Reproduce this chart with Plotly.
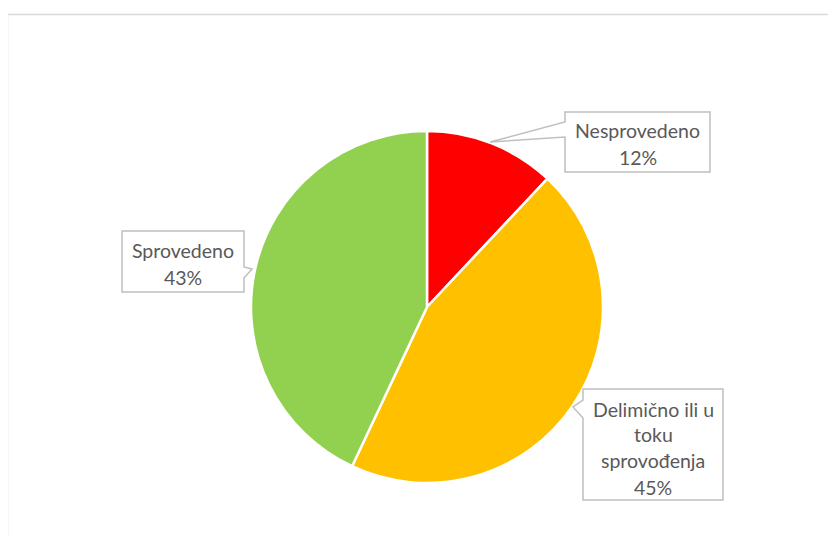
import plotly.graph_objects as go

# ---- data ----
categories = ["Nesprovedeno", "Delimično ili u toku sprovođenja", "Sprovedeno"]
values = [12, 45, 43]
label_lines = [["Nesprovedeno"], ["Delimično ili u", "toku", "sprovođenja"], ["Sprovedeno"]]
colors = ["#FF0000", "#FFC000", "#92D050"]

W, H = 836, 536
OFF = 8  # page body offset of the figure

def px(x):
    return (x - OFF) / W

def py(y):
    return 1 - (y - OFF) / H

fig = go.Figure()
fig.add_trace(go.Pie(
    labels=categories,
    values=values,
    marker=dict(colors=colors, line=dict(color="white", width=2.5)),
    sort=False,
    direction="clockwise",
    rotation=0,
    textinfo="none",
    hoverinfo="label+percent",
    showlegend=False,
    domain=dict(x=[px(251), px(603)], y=[py(483), py(131)]),
))

total = sum(values)
pcts = [round(v / total * 100) for v in values]

# callout box geometry (pixels): box rect + pointer (edge, start, tip, end)
callouts = [
    dict(box=(565, 112, 710, 172), ptr=("left", 122, (490, 142), 137), text_y=(130, 157)),
    dict(box=(583, 389, 723, 500), ptr=("left", 400, (573, 407), 418), text_y=(409, 434, 460, 487)),
    dict(box=(122, 231, 244, 292), ptr=("right", 267, (252, 269), 278), text_y=(250, 277)),
]

def box_path(box, ptr):
    x0, y0, x1, y1 = box
    side, s, tip, e = ptr
    if side == "left":
        pts = [(x0, y0), (x1, y0), (x1, y1), (x0, y1), (x0, e), tip, (x0, s)]
    else:
        pts = [(x0, y0), (x1, y0), (x1, s), tip, (x1, e), (x1, y1), (x0, y1)]
    return "M " + " L ".join(f"{px(x):.5f},{py(y):.5f}" for x, y in pts) + " Z"

for i, c in enumerate(callouts):
    fig.add_shape(type="path", path=box_path(c["box"], c["ptr"]), xref="paper", yref="paper",
                  line=dict(color="#BFBFBF", width=1.5), fillcolor="white", layer="above")
    lines = label_lines[i] + [f"{pcts[i]}%"]
    cx = (c["box"][0] + c["box"][2]) / 2
    for line, ty in zip(lines, c["text_y"]):
        fig.add_annotation(x=px(cx), y=py(ty), xref="paper", yref="paper", text=line,
                           showarrow=False, xanchor="center", yanchor="middle",
                           font=dict(family="Lato", size=19.5, color="#595959"))

# chart frame
fig.add_shape(type="rect", xref="paper", yref="paper", x0=px(7.5), y0=py(560), x1=px(860), y1=py(14.5),
              line=dict(color="#D9D9D9", width=1.5), fillcolor="rgba(0,0,0,0)", layer="below")

fig.update_layout(
    width=W, height=H,
    margin=dict(l=0, r=0, t=0, b=0),
    paper_bgcolor="white", plot_bgcolor="white",
)

fig.write_html("out.html")
